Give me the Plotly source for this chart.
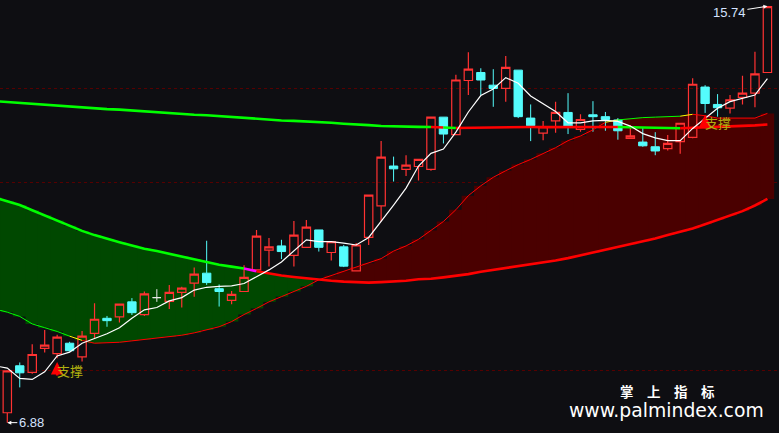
import plotly.graph_objects as go

# ---------------- data ----------------
OPEN = [7.09, 8.09, 7.95, 8.46, 8.35, 8.57, 8.28, 8.78, 9.10, 9.13,
        9.45, 9.18, 9.54, 9.46, 9.65, 9.85, 10.06, 9.73, 9.48, 9.67,
        10.13, 10.55, 10.64, 10.44, 10.61, 10.98, 10.50, 10.62, 10.11, 10.82,
        11.49, 12.34, 12.27, 12.33, 12.27, 13.38, 13.01, 14.16, 14.33, 14.06,
        13.99, 14.38, 13.36, 13.04, 13.30, 13.48, 13.12, 13.43, 13.39, 13.32,
        12.93, 12.85, 12.75, 12.71, 12.86, 12.95, 14.02, 13.65, 13.57, 13.80,
        13.89, 14.33]
HIGH = [7.98, 8.16, 8.55, 8.85, 8.75, 8.60, 8.83, 9.42, 9.15, 9.40,
        9.53, 9.67, 9.72, 9.81, 9.77, 10.18, 10.75, 9.82, 9.68, 10.23,
        10.98, 10.81, 10.77, 11.17, 11.19, 10.98, 10.73, 10.66, 10.70, 11.72,
        12.87, 12.54, 12.57, 12.48, 13.38, 13.38, 14.28, 14.76, 14.42, 14.40,
        14.68, 14.38, 13.65, 13.30, 13.71, 13.89, 13.44, 13.72, 13.49, 13.36,
        13.21, 13.15, 13.06, 13.00, 13.25, 14.21, 14.06, 13.87, 13.85, 14.26,
        14.77, 15.74]
LOW = [6.88, 7.63, 7.92, 8.37, 8.25, 8.39, 8.18, 8.67, 8.92, 9.01,
       9.17, 9.15, 9.45, 9.30, 9.33, 9.56, 9.81, 9.35, 9.40, 9.67,
       10.13, 10.20, 10.36, 10.20, 10.61, 10.52, 10.33, 10.19, 10.11, 10.66,
       11.16, 12.01, 12.13, 12.03, 12.24, 12.82, 13.01, 13.85, 13.85, 13.60,
       13.71, 13.36, 12.87, 12.89, 13.05, 13.02, 13.07, 13.07, 13.09, 12.90,
       12.93, 12.75, 12.57, 12.67, 12.60, 12.93, 13.47, 13.39, 13.46, 13.65,
       13.59, 14.33]
CLOSE = [7.98, 7.94, 8.33, 8.53, 8.70, 8.41, 8.72, 9.08, 9.05, 9.40,
         9.22, 9.62, 9.54, 9.65, 9.74, 10.04, 9.86, 9.67, 9.61, 9.97,
         10.85, 10.62, 10.52, 10.87, 11.04, 10.61, 10.73, 10.21, 10.66, 11.72,
         12.53, 12.28, 12.36, 12.48, 13.38, 13.02, 14.17, 14.40, 14.17, 13.99,
         14.44, 13.39, 13.20, 13.18, 13.48, 13.18, 13.33, 13.39, 13.33, 13.09,
         12.98, 12.77, 12.66, 12.82, 13.25, 14.08, 13.67, 13.58, 13.75, 13.89,
         14.30, 15.73]

# indicator lines, first value belongs to the bar just before the window (index -1)
MA_WHITE = [8.09, 8.04, 7.82, 7.80, 7.96, 8.30, 8.38, 8.57, 8.67, 8.77, 8.90,
            9.10, 9.28, 9.33, 9.47, 9.54, 9.70, 9.76, 9.78, 9.79, 9.84,
            9.99, 10.13, 10.30, 10.54, 10.77, 10.73, 10.73, 10.70, 10.66, 10.82,
            11.16, 11.51, 11.87, 12.34, 12.61, 12.70, 13.06, 13.49, 13.84, 13.98,
            14.22, 14.10, 13.83, 13.66, 13.50, 13.26, 13.26, 13.30, 13.31, 13.29,
            13.19, 13.03, 12.94, 12.88, 12.88, 13.14, 13.36, 13.57, 13.71, 13.78,
            13.85, 14.20]
LINE_A = [13.72, 13.70, 13.68, 13.66, 13.64, 13.62, 13.60, 13.59, 13.57, 13.55, 13.54,
          13.52, 13.50, 13.49, 13.47, 13.45, 13.43, 13.42, 13.40, 13.38, 13.36,
          13.34, 13.33, 13.31, 13.30, 13.29, 13.27, 13.26, 13.24, 13.23, 13.21,
          13.19, 13.18, 13.177, 13.172, 13.17, 13.16, 13.150, 13.155, 13.160, 13.165,
          13.168, 13.170, 13.170, 13.168, 13.168, 13.168, 13.170, 13.172, 13.175, 13.170,
          13.162, 13.155, 13.150, 13.145, 13.145, 13.158, 13.172, 13.184, 13.190, 13.195,
          13.205, 13.222]
LINE_B = [11.67, 11.59, 11.51, 11.40, 11.29, 11.18, 11.07, 10.96, 10.87, 10.79, 10.72,
          10.65, 10.58, 10.53, 10.47, 10.42, 10.36, 10.30, 10.24, 10.20, 10.16,
          10.10, 10.05, 10.01, 9.98, 9.95, 9.92, 9.90, 9.88, 9.87, 9.86,
          9.87, 9.88, 9.90, 9.93, 9.94, 9.97, 10.00, 10.04, 10.09, 10.13,
          10.17, 10.21, 10.24, 10.29, 10.33, 10.38, 10.44, 10.49, 10.55, 10.61,
          10.67, 10.73, 10.80, 10.87, 10.94, 11.01, 11.10, 11.19, 11.28, 11.38,
          11.50, 11.64]
LINE_C = [9.30, 9.23, 9.14, 8.98, 8.90, 8.82, 8.72, 8.63, 8.57, 8.58, 8.59,
          8.62, 8.65, 8.68, 8.71, 8.74, 8.79, 8.85, 8.92, 9.03, 9.18,
          9.31, 9.45, 9.56, 9.67, 9.78, 9.92, 10.01, 10.10, 10.19, 10.27,
          10.37, 10.53, 10.64, 10.78, 10.97, 11.16, 11.41, 11.71, 11.92, 12.10,
          12.24, 12.37, 12.48, 12.61, 12.73, 12.88, 12.98, 13.11, 13.27, 13.32,
          13.35, 13.37, 13.38, 13.39, 13.40, 13.44, 13.41, 13.36, 13.36, 13.36,
          13.36, 13.46]

GRID_LEVELS = [8, 12, 14]
SIGNAL_IDX = [4, 56]
SIGNAL_PRICE = [8.17, 13.43]
SIGNAL_TEXT = "支撑"
HIGH_LABEL = "15.74"
LOW_LABEL = "6.88"
BRAND_CN = "掌\u3000上\u3000指\u3000标"
BRAND_URL = "www.palmindex.com"

# ---------------- styles ----------------
BG = "#0e0e12"
RED = "#ff3232"
CYAN = "#54fcfc"
LINE_RED = "#ff0000"
LINE_GREEN = "#00ff00"
FILL_GREEN = "#004800"
FILL_RED = "#4a0000"

N = len(CLOSE)
IDX = list(range(N))
LIDX = list(range(-1, N))


def states(line):
    st = []
    for j, v in zip(LIDX, line):
        c = CLOSE[max(j, 0)]
        st.append(c > v)
    return st


def seg_colors(line, trans):
    st = states(line)
    cols = []
    for k in range(len(st) - 1):
        if st[k] == st[k + 1]:
            cols.append(LINE_RED if st[k] else LINE_GREEN)
        else:
            if trans is None:
                cols.append(LINE_RED if st[k] else LINE_GREEN)
            else:
                cols.append(trans)
    return cols


def segment_traces(ys, cols, width):
    out = []
    start = 0
    for k in range(1, len(cols) + 1):
        if k == len(cols) or cols[k] != cols[start]:
            out.append(go.Scatter(x=LIDX[start:k + 1], y=ys[start:k + 1], mode="lines",
                                  line=dict(color=cols[start], width=width),
                                  hoverinfo="skip", showlegend=False))
            start = k
    return out


fig = go.Figure()

# fill between LINE_B and LINE_C drawn as per-bar columns
bases = [min(b, c) for b, c in zip(LINE_B, LINE_C)]
heights = [abs(b - c) for b, c in zip(LINE_B, LINE_C)]
fcols = [FILL_GREEN if c < b else FILL_RED for b, c in zip(LINE_B, LINE_C)]
fig.add_trace(go.Bar(x=LIDX, y=heights, base=bases, width=1.08,
                     marker=dict(color=fcols, line=dict(width=0)),
                     hoverinfo="skip", showlegend=False))

for t in segment_traces(LINE_C, seg_colors(LINE_C, "#ffff00"), 1):
    fig.add_trace(t)
for t in segment_traces(LINE_B, seg_colors(LINE_B, "#ff00ff"), 2.6):
    fig.add_trace(t)
for t in segment_traces(LINE_A, seg_colors(LINE_A, None), 2.6):
    fig.add_trace(t)

# candles
norm = [k for k in IDX if OPEN[k] != CLOSE[k]]
doji = [k for k in IDX if OPEN[k] == CLOSE[k]]
fig.add_trace(go.Candlestick(
    x=norm, open=[OPEN[k] for k in norm], high=[HIGH[k] for k in norm],
    low=[LOW[k] for k in norm], close=[CLOSE[k] for k in norm],
    increasing=dict(line=dict(color=RED, width=1.2), fillcolor="rgba(0,0,0,0)"),
    decreasing=dict(line=dict(color=CYAN, width=1), fillcolor=CYAN),
    whiskerwidth=0, hoverinfo="skip", showlegend=False))
if doji:
    fig.add_trace(go.Candlestick(
        x=doji, open=[OPEN[k] for k in doji], high=[HIGH[k] for k in doji],
        low=[LOW[k] for k in doji], close=[CLOSE[k] for k in doji],
        increasing=dict(line=dict(color="#e8e8e8", width=1), fillcolor="#e8e8e8"),
        decreasing=dict(line=dict(color="#e8e8e8", width=1), fillcolor="#e8e8e8"),
        whiskerwidth=0, hoverinfo="skip", showlegend=False))

fig.add_trace(go.Scatter(x=LIDX, y=MA_WHITE, mode="lines",
                         line=dict(color="#ffffff", width=1.2),
                         hoverinfo="skip", showlegend=False))

ann = []
hi_i = HIGH.index(max(HIGH))
lo_i = LOW.index(min(LOW))
ann.append(dict(x=hi_i, y=HIGH[hi_i], xref="x", yref="y", text=HIGH_LABEL,
                showarrow=True, ax=-38, ay=6, arrowcolor="#ffffff", arrowwidth=1,
                arrowhead=2, arrowsize=0.8,
                font=dict(family="Liberation Sans, Arial", size=13, color="#d4e2ff")))
ann.append(dict(x=lo_i, y=LOW[lo_i], xref="x", yref="y", text=LOW_LABEL,
                showarrow=True, ax=24, ay=0, arrowcolor="#ffffff", arrowwidth=1,
                arrowhead=2, arrowsize=0.8,
                font=dict(family="Liberation Sans, Arial", size=13, color="#d4e2ff")))
for si, sp in zip(SIGNAL_IDX, SIGNAL_PRICE):
    ann.append(dict(x=si, y=sp, xref="x", yref="y", text="", showarrow=True,
                    ax=0, ay=15, arrowcolor=LINE_RED, arrowwidth=2.5,
                    arrowhead=2, arrowsize=1))
    ann.append(dict(x=si, y=sp, xref="x", yref="y", text=SIGNAL_TEXT, showarrow=False,
                    xshift=13, yshift=-8,
                    font=dict(family="Noto Sans CJK SC", size=13, color="#b0b010")))
ann.append(dict(x=0.857, y=0.096, xref="paper", yref="paper", showarrow=False,
                xanchor="center", yanchor="middle",
                text="<b>" + BRAND_CN + "</b>",
                font=dict(family="Noto Sans CJK SC", size=13.5, color="#ffffff")))
ann.append(dict(x=0.8556, y=0.053, xref="paper", yref="paper", showarrow=False,
                xanchor="center", yanchor="middle",
                text=BRAND_URL,
                font=dict(family="DejaVu Sans", size=18.8, color="#ffffff")))

fig.update_layout(
    width=779, height=433, margin=dict(l=0, r=0, t=0, b=0),
    paper_bgcolor=BG, plot_bgcolor=BG, showlegend=False,
    boxmode="overlay", boxgap=0.33, boxgroupgap=0, barmode="overlay",
    xaxis=dict(range=[-0.586, 61.93], showgrid=False, zeroline=False,
               showticklabels=False, rangeslider=dict(visible=False), fixedrange=True),
    yaxis=dict(range=[6.6595, 15.8723], tickvals=GRID_LEVELS, showgrid=True,
               gridcolor="#560000", griddash="dot", gridwidth=1,
               zeroline=False, showticklabels=False, fixedrange=True),
    annotations=ann,
)

fig.write_html("out.html", config={"displayModeBar": False},
               post_script="document.body.style.margin='0';document.body.style.overflow='hidden';document.body.style.background='" + BG + "';")
